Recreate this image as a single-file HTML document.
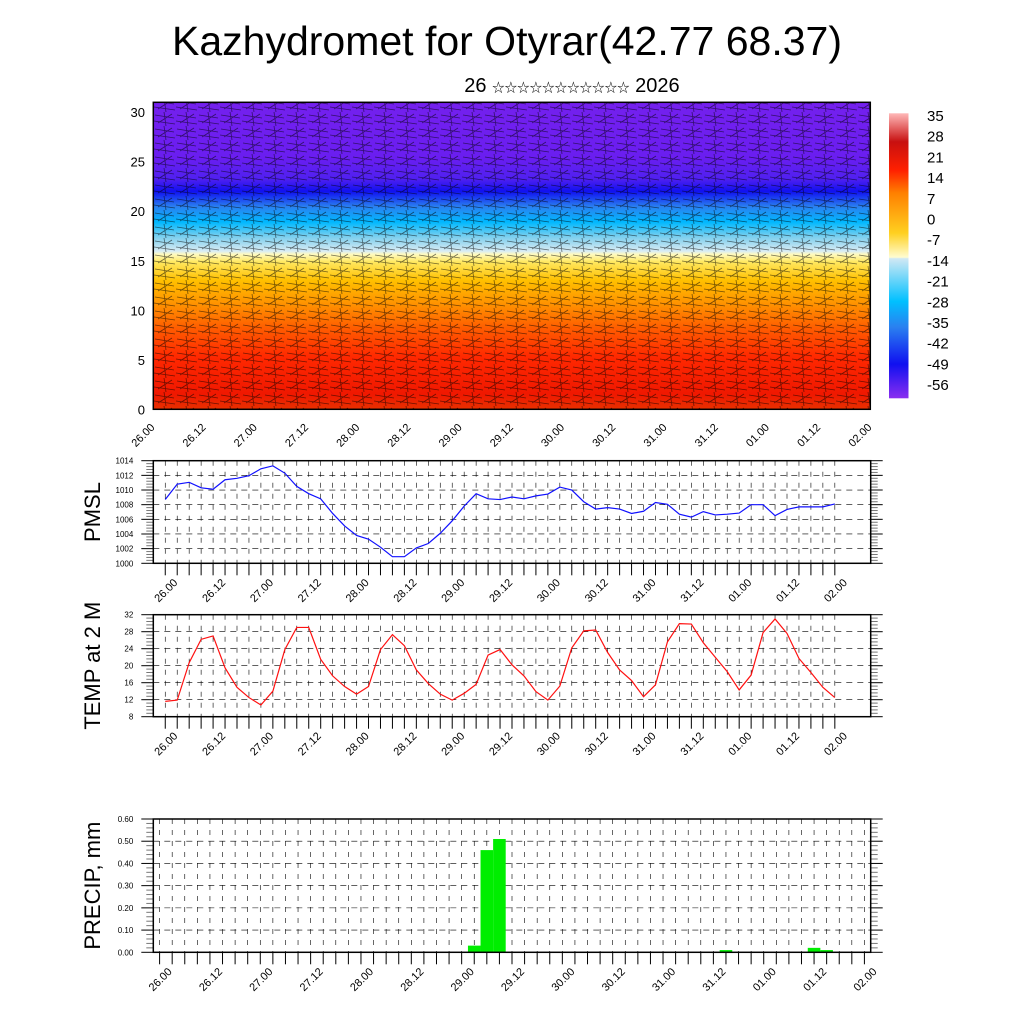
<!DOCTYPE html>
<html><head><meta charset="utf-8"><style>
body{margin:0;background:#fff;}
svg{display:block;font-family:"Liberation Sans",sans-serif;}
</style></head><body>
<svg id="s" width="1024" height="1024" viewBox="0 0 1024 1024">
<defs>
<linearGradient id="tg" x1="0" y1="1" x2="0" y2="0">
<stop offset="0" stop-color="#e83000"/>
<stop offset="0.05" stop-color="#f01800"/>
<stop offset="0.17" stop-color="#ff2800"/>
<stop offset="0.26" stop-color="#ff5a00"/>
<stop offset="0.34" stop-color="#ff9000"/>
<stop offset="0.42" stop-color="#ffc000"/>
<stop offset="0.48" stop-color="#ffe860"/>
<stop offset="0.505" stop-color="#fffac0"/>
<stop offset="0.515" stop-color="#d8ecf4"/>
<stop offset="0.56" stop-color="#80d0ee"/>
<stop offset="0.61" stop-color="#00b8ff"/>
<stop offset="0.66" stop-color="#2a80f0"/>
<stop offset="0.71" stop-color="#1010f0"/>
<stop offset="0.75" stop-color="#5020f0"/>
<stop offset="0.82" stop-color="#6a1ef0"/>
<stop offset="1" stop-color="#7420ee"/>
</linearGradient>
<linearGradient id="cb" x1="0" y1="1" x2="0" y2="0">
<stop offset="0" stop-color="#8a2ef0"/>
<stop offset="0.12" stop-color="#1010f0"/>
<stop offset="0.25" stop-color="#2a80f0"/>
<stop offset="0.34" stop-color="#00c0ff"/>
<stop offset="0.49" stop-color="#d0e8f4"/>
<stop offset="0.495" stop-color="#fffcd0"/>
<stop offset="0.58" stop-color="#ffd020"/>
<stop offset="0.72" stop-color="#ff8000"/>
<stop offset="0.8" stop-color="#ff2000"/>
<stop offset="0.9" stop-color="#c81010"/>
<stop offset="1" stop-color="#ffb8b8"/>
</linearGradient>
<pattern id="wind" width="22" height="14" patternUnits="userSpaceOnUse">
<path d="M1 3 L20 6 M4 11 L18 2 M10 0 L12 14 M0 9 L21 12" stroke="#000" stroke-opacity="0.55" stroke-width="0.8" fill="none"/>
</pattern>
</defs>
<text x="507" y="55" font-size="41" text-anchor="middle">Kazhydromet for Otyrar(42.77 68.37)</text>
<text x="572" y="92" font-size="20" text-anchor="middle" font-family="Liberation Sans, Noto Sans CJK JP, sans-serif">26 <tspan font-size="12.5">☆☆☆☆☆☆☆☆☆☆☆</tspan> 2026</text>
<g id="top">
<rect x="153.3" y="102.3" width="717" height="307" fill="url(#tg)"/>
<rect x="153.3" y="102.3" width="717" height="307" fill="url(#wind)"/>
<rect x="153.3" y="102.3" width="717" height="307" fill="none" stroke="#000" stroke-width="1.5"/>
</g>
<rect x="889" y="113.3" width="19.5" height="285" fill="url(#cb)"/>
<g id="g"></g>
</svg>
<script>
const pmslValues=[1008.7,1010.8,1011.05,1010.3,1010.1,1011.4,1011.6,1011.95,1012.9,1013.3,1012.3,1010.5,1009.5,1008.8,1006.8,1005.1,1003.8,1003.3,1002.2,1000.9,1000.9,1002.1,1002.7,1004.1,1005.8,1007.8,1009.5,1008.8,1008.7,1009.05,1008.8,1009.2,1009.45,1010.4,1010.0,1008.4,1007.4,1007.6,1007.4,1006.8,1007.1,1008.3,1008.05,1006.7,1006.3,1007.05,1006.6,1006.7,1006.85,1008.0,1008.0,1006.5,1007.35,1007.7,1007.7,1007.7,1008.1];
const tempValues=[11.6,11.9,20.7,26.2,27.0,19.5,14.9,12.5,10.75,14.0,23.8,29.0,29.0,21.5,17.6,15.1,13.3,15.1,23.8,27.3,24.7,19.0,15.8,13.3,11.9,13.5,15.6,22.5,23.8,20.2,17.6,13.9,11.9,15.2,24.2,28.2,28.4,23.1,19.0,16.5,12.7,15.5,25.6,29.9,29.8,25.4,22.0,18.6,14.3,17.8,27.8,31.0,27.6,21.7,18.4,14.9,12.5];
const precipValues=[0,0,0,0,0,0,0,0,0,0,0,0,0,0,0,0,0,0,0,0,0,0,0,0,0,0.03,0.46,0.51,0,0,0,0,0,0,0,0,0,0,0,0,0,0,0,0,0,0.01,0,0,0,0,0,0,0.02,0.01,0,0,0];
const timeLabels=["26.00","26.12","27.00","27.12","28.00","28.12","29.00","29.12","30.00","30.12","31.00","31.12","01.00","01.12","02.00"];
const heightTicks=[0,5,10,15,20,25,30];
const colorbarLabels=["35","28","21","14","7","0","-7","-14","-21","-28","-35","-42","-49","-56"];
const pmslTicks=[1000,1002,1004,1006,1008,1010,1012,1014];
const tempTicks=[8,12,16,20,24,28,32];
const precipTicks=[0,0.1,0.2,0.3,0.4,0.5,0.6];

const NS="http://www.w3.org/2000/svg";
const G=document.getElementById('g');
function mk(tag,at,parent){const e=document.createElementNS(NS,tag);for(const k in at)e.setAttribute(k,at[k]);(parent||G).appendChild(e);return e;}

const tx=i=>153.3+i*(717/14);
const hy=v=>409.3-v*(307/31);
heightTicks.forEach(v=>{
 const t=mk('text',{x:145,y:hy(v)+5,'font-size':13,'text-anchor':'end'});
 
 
 t.textContent=v;
});
timeLabels.forEach((l,i)=>{
 const x=tx(i),y=420;
 const t=mk('text',{x:x+2,y:y+8,'font-size':11,'text-anchor':'end',transform:`rotate(-45 ${x+2} ${y+8})`});
 
 
 t.textContent=l;
});
colorbarLabels.forEach((l,i)=>{
 const t=mk('text',{x:927,y:121+i*20.7,'font-size':15});
 
 
 t.textContent=l;
});

function panel(name,top,bot,ymin,ymax,ticks,fmt,vals,color,type,ytitle){
 const L=153.3,R=870.7;
 let x0,step;
 if(type==='bar'){step=(R-L)/57;x0=L+0.5*step;}else{step=(R-L)/60;x0=L+step;}
 const xs=i=>x0+i*step;
 const ys=v=>bot-(v-ymin)/(ymax-ymin)*(bot-top);
 const g=mk('g',{});
 
 
 for(let i=0;i<57;i++){
  const l=mk('line',{x1:xs(i),x2:xs(i),y1:top,y2:bot,stroke:'#000','stroke-width':0.6,'stroke-dasharray':'5,6'},g);
  
  
  const tk=mk('line',{x1:xs(i),x2:xs(i),y1:bot,y2:bot+12,stroke:'#000','stroke-width':1},g);
  
  
 }
 ticks.forEach((v,k)=>{
  const y=ys(v);
  if(k>0&&k<ticks.length-1){
   const l=mk('line',{x1:L,x2:R,y1:y,y2:y,stroke:'#000','stroke-width':0.6,'stroke-dasharray':'6,5'},g);
   
   
  }
  const a=mk('line',{x1:L-12,x2:L,y1:y,y2:y,stroke:'#000','stroke-width':1},g);
  
  
  const b=mk('line',{x1:R,x2:R+12,y1:y,y2:y,stroke:'#000','stroke-width':1},g);
  
  
  const t=mk('text',{x:L-20,y:y+3,'font-size':8,'text-anchor':'end'},g);
  
  
  t.textContent=fmt(v);
  if(k<ticks.length-1){
   const y2=ys(ticks[k+1]);
   for(let m=1;m<5;m++){const yy=y+(y2-y)*m/5;
    const mi=mk('line',{x1:L-7,x2:L,y1:yy,y2:yy,stroke:'#777','stroke-width':1},g);
    
    
    const mr=mk('line',{x1:R,x2:R+7,y1:yy,y2:yy,stroke:'#777','stroke-width':1},g);
    
    
   }
  }
 });
 if(type==='bar'){
  vals.forEach((v,i)=>{ if(v<=0)return;
   const r=mk('rect',{x:xs(i)-step/2,y:ys(v),width:step,height:bot-ys(v),fill:'#00ee00'},g);
   
   
  });
 } else {
  const p=mk('polyline',{points:vals.map((v,i)=>xs(i)+','+ys(v)).join(' '),fill:'none',stroke:color,'stroke-width':1.2},g);
  
  
 }
 const f=mk('rect',{x:L,y:top,width:R-L,height:bot-top,fill:'none',stroke:'#000','stroke-width':1.5},g);
 
 
 timeLabels.forEach((l,k)=>{
  const x=xs(k*4)+13,y=bot+20;
  const t=mk('text',{x:x,y:y,'font-size':11,'text-anchor':'end',transform:`rotate(-45 ${x} ${y})`},g);
  
  
  t.textContent=l;
 });
 const cy=(top+bot)/2;
 const yt=mk('text',{x:100,y:cy,'font-size':22,'text-anchor':'middle',transform:`rotate(-90 100 ${cy})`},g);
 
 
 yt.textContent=ytitle;
}
panel('pmsl',460.7,563.3,1000,1014,pmslTicks,v=>String(v),pmslValues,'#1010ff','line','PMSL');
panel('temp',614.7,716.7,8,32,tempTicks,v=>String(v),tempValues,'#ff1010','line','TEMP at 2 M');
panel('precip',819,952.3,0,0.6,precipTicks,v=>v.toFixed(2),precipValues,'#00ee00','bar','PRECIP, mm');
</script>
</body></html>
